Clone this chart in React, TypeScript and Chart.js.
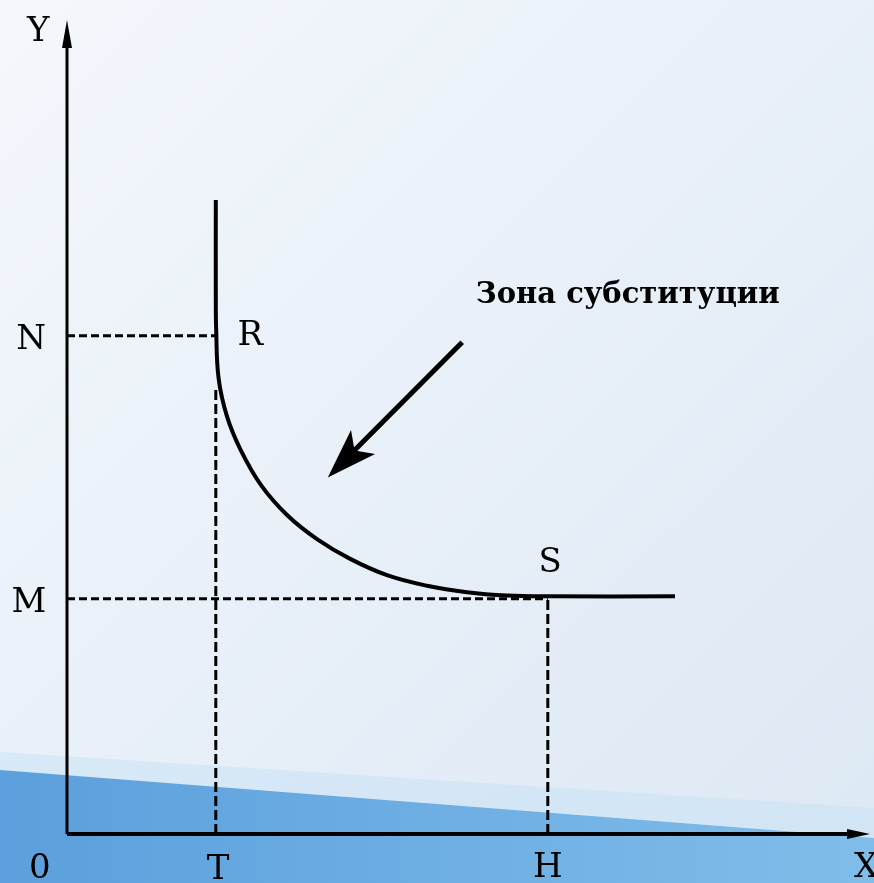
import React, { useEffect, useRef } from 'react';
import { Chart, registerables } from 'chart.js';
Chart.register(...registerables);

// Key levels (0..100 units on each axis)
const T_X = 18.6;
const H_X = 60.1;
const N_Y = 61.2;
const M_Y = 28.9;

// Isoquant: vertical part above R, then the curve from R to S and beyond
const curveX = [18.6, 18.6, 18.65, 18.95, 20.0, 21.7, 24.3, 27.6, 31.3, 35.4, 40.0, 45.0, 50.0, 55.0, 60.4, 76.0];
const curveY = [77.9, 66.0, 61.9, 56.0, 51.3, 47.2, 42.8, 39.1, 36.2, 33.8, 31.8, 30.5, 29.7, 29.3, 29.2, 29.2];

// Arrow pointing to the substitution zone
const arrowX = [49.4, 32.6];
const arrowY = [60.4, 43.8];

// Labels
const labelText = ['Y', 'N', 'M', '0', 'T', 'H', 'X', 'R', 'S'];
const labelX = [-3.6, -4.5, -4.75, -3.4, 18.9, 60.1, 99.9, 22.9, 60.4];
const labelY = [98.5, 60.7, 28.3, -4.3, -4.4, -4.2, -4.2, 61.1, 33.3];
const zoneText = 'Зона субституции';
const zoneX = 70.1;
const zoneY = 66.1;

const pts = (xs: number[], ys: number[]) => xs.map((x, i) => ({ x, y: ys[i] }));

export default function App() {
  const ref = useRef<HTMLCanvasElement>(null);
  useEffect(() => {
    document.body.style.margin = '0';
    const bgPlugin = {
      id: 'bg',
      beforeDraw(chart: any) {
        const ctx = chart.ctx;
        const w = chart.width, h = chart.height;
        ctx.save();
        const g = ctx.createLinearGradient(0, 0, w, h);
        g.addColorStop(0, '#f4f7fc');
        g.addColorStop(1, '#dce8f4');
        ctx.fillStyle = g;
        ctx.fillRect(0, 0, w, h);
        // light band
        ctx.beginPath();
        ctx.moveTo(0, 752);
        ctx.lineTo(w, 808);
        ctx.lineTo(w, 838);
        ctx.lineTo(0, 770);
        ctx.closePath();
        ctx.fillStyle = 'rgba(200,225,246,0.55)';
        ctx.fill();
        // blue wedge
        const b = ctx.createLinearGradient(0, 0, w, 0);
        b.addColorStop(0, '#5b9fdc');
        b.addColorStop(1, '#80bdea');
        ctx.beginPath();
        ctx.moveTo(0, 770);
        ctx.lineTo(w, 838);
        ctx.lineTo(w, h);
        ctx.lineTo(0, h);
        ctx.closePath();
        ctx.fillStyle = b;
        ctx.fill();
        ctx.restore();
      },
    };
    const annoPlugin = {
      id: 'anno',
      afterDatasetsDraw(chart: any) {
        const ctx = chart.ctx;
        const xs = chart.scales.x, ys = chart.scales.y;
        ctx.save();
        ctx.fillStyle = '#000';
        // Y axis arrowhead
        const yx = xs.getPixelForValue(0), yTop = ys.getPixelForValue(100);
        ctx.beginPath();
        ctx.moveTo(yx, yTop);
        ctx.lineTo(yx - 5, yTop + 28);
        ctx.lineTo(yx + 5, yTop + 28);
        ctx.closePath();
        ctx.fill();
        // X axis arrowhead
        const xr = xs.getPixelForValue(100), xy = ys.getPixelForValue(0);
        ctx.beginPath();
        ctx.moveTo(xr + 3, xy);
        ctx.lineTo(xr - 20, xy - 5);
        ctx.lineTo(xr - 20, xy + 5);
        ctx.closePath();
        ctx.fill();
        // pointer arrowhead
        const sx = xs.getPixelForValue(arrowX[0]), sy = ys.getPixelForValue(arrowY[0]);
        const tx = xs.getPixelForValue(arrowX[1]), ty = ys.getPixelForValue(arrowY[1]);
        const ang = Math.atan2(ty - sy, tx - sx);
        ctx.translate(tx, ty);
        ctx.rotate(ang);
        ctx.beginPath();
        ctx.moveTo(0, 0);
        ctx.lineTo(-50, -17);
        ctx.lineTo(-38, 0);
        ctx.lineTo(-50, 17);
        ctx.closePath();
        ctx.fill();
        ctx.setTransform(1, 0, 0, 1, 0, 0);
        // labels
        ctx.textAlign = 'center';
        ctx.textBaseline = 'middle';
        ctx.font = '34px "DejaVu Serif"';
        labelText.forEach((t, i) => {
          ctx.fillText(t, xs.getPixelForValue(labelX[i]), ys.getPixelForValue(labelY[i]));
        });
        ctx.font = 'bold 29px "DejaVu Serif"';
        ctx.fillText(zoneText, xs.getPixelForValue(zoneX), ys.getPixelForValue(zoneY));
        ctx.restore();
      },
    };
    const line = (data: any, width: number, dash: number[] = [], tension = 0) => ({
      data,
      borderColor: '#000',
      borderWidth: width,
      borderDash: dash,
      pointRadius: 0,
      fill: false,
      tension,
      clip: false,
    });
    const chart = new Chart(ref.current!, {
      type: 'line',
      data: {
        datasets: [
          line(pts([0, 0], [0, 98]), 3),
          line(pts([0, 98], [0, 0]), 4),
          line(pts([0, T_X], [N_Y, N_Y]), 3, [8, 4]),
          line(pts([0, H_X], [M_Y, M_Y]), 3, [8, 4]),
          line(pts([T_X, T_X], [0, 55]), 3, [10, 4]),
          line(pts([H_X, H_X], [0, M_Y]), 3, [10, 4]),
          line(pts(curveX, curveY), 4, [], 0.4),
          line(pts([arrowX[0], arrowX[1] + 3], [arrowY[0], arrowY[1] + 3]), 5),
        ] as any,
      },
      options: {
        animation: false,
        responsive: false,
        events: [],
        layout: { padding: { left: 67, right: 7, top: 20, bottom: 49 } },
        plugins: { legend: { display: false }, tooltip: { enabled: false }, title: { display: false } },
        scales: {
          x: { type: 'linear', min: 0, max: 100, display: false },
          y: { type: 'linear', min: 0, max: 100, display: false },
        },
      },
      plugins: [bgPlugin, annoPlugin],
    } as any);
    return () => chart.destroy();
  }, []);
  return (
    <div style={{ width: 874, height: 883 }}>
      <canvas ref={ref} width={874} height={883} style={{ display: 'block' }} />
    </div>
  );
}
